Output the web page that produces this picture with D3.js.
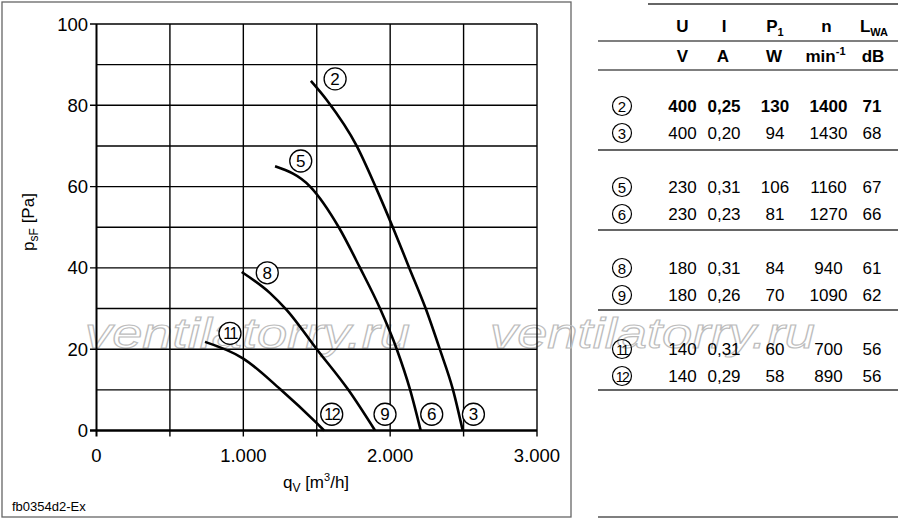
<!DOCTYPE html>
<html><head><meta charset="utf-8">
<script src="https://cdn.jsdelivr.net/npm/d3@7"></script>
<style>
body{margin:0;background:#fff;}
svg{display:block;font-family:"Liberation Sans",Arial,Helvetica,sans-serif;}
</style></head>
<body><svg id="c" width="900" height="520"></svg>
<script>
// ---- data ----
const xTicks = [0, 500, 1000, 1500, 2000, 2500, 3000];
const xTickLabels = ["0", "", "1.000", "", "2.000", "", "3.000"];
const yGrid = [0, 10, 20, 30, 40, 50, 60, 70, 80, 90, 100];
const yTickLabels = [0, 20, 40, 60, 80, 100];

// curve 2 -> 3
const curve23 = [[1460,86],[1568,81.3],[1772,70],[1900,60],[2018,50],[2130,40],[2242,30],[2338,20],[2428,10],[2494,0]];
// curve 5 -> 6
const curve56 = [[1216,65],[1455,60],[1650,50],[1795,40],[1931,30],[2045,20],[2136,10],[2208,0]];
// curve 8 -> 9
const curve89 = [[989,39],[1182,33.8],[1296,29.6],[1500,20],[1715,10],[1897,0]];
// curve 11 -> 12
const curve1112 = [[739,21.8],[1000,17.7],[1250,10.2],[1500,1.8],[1550,0]];
const curves = [curve23, curve56, curve89, curve1112];

// operating point labels [number, q, p]
const pointLabels = [["2",1625,86.5],["3",2567,4],["5",1391,66.3],["6",2283,4],["8",1163,38.8],["9",1965,4],["11",909,23.9],["12",1602,4]];

// table
const rowIds = ["2","3","5","6","8","9","11","12"];
const colU = [400,400,230,230,180,180,140,140];
const colI = ["0,25","0,20","0,31","0,23","0,31","0,26","0,31","0,29"];
const colP1 = [130,94,106,81,84,70,60,58];
const colN = [1400,1430,1160,1270,940,1090,700,890];
const colLWA = [71,68,67,66,61,62,56,56];

// ---- drawing ----
const svg = d3.select("#c");
const x = d3.scaleLinear().domain([0,3000]).range([96.5,537]);
const y = d3.scaleLinear().domain([0,100]).range([430.5,24]);

// frame of left panel
svg.append("rect").attr("x",2).attr("y",2).attr("width",569).attr("height",515)
  .attr("fill","none").attr("stroke","#666").attr("stroke-width",1.3);

// watermark
["ventilatorry.ru","ventilatorry.ru"].forEach((t,i)=>{
  svg.append("text").attr("x", i===0 ? 85 : 490).attr("y",348)
    .attr("font-size",42).attr("font-style","italic")
    .attr("textLength",325).attr("lengthAdjust","spacingAndGlyphs")
    .attr("fill","none").attr("stroke","#bdbdbd").attr("stroke-width",1.1)
    .text(t);
});

// grid
const g = svg.append("g");
g.selectAll(".hg").data(yGrid).join("line")
  .attr("x1", d => (d % 20 === 0) ? x(0)-6.5 : x(0)).attr("x2", x(3000))
  .attr("y1", d=>y(d)).attr("y2", d=>y(d))
  .attr("stroke","#000").attr("stroke-width", d => d===0 ? 2.4 : 1.4);
g.selectAll(".vg").data(xTicks).join("line")
  .attr("x1", d=>x(d)).attr("x2", d=>x(d))
  .attr("y1", y(100)).attr("y2", y(0)+6)
  .attr("stroke","#000").attr("stroke-width", d => d===0 ? 2 : 1.4);

// tick labels
svg.selectAll(".yl").data(yTickLabels).join("text")
  .attr("x", 88).attr("y", d=>y(d)+6.5).attr("text-anchor","end")
  .attr("font-size",18.5).attr("fill","#000").text(d=>d);
svg.selectAll(".xl").data(xTicks).join("text")
  .attr("x", d=>x(d)).attr("y", 462).attr("text-anchor","middle")
  .attr("font-size",18.5).attr("fill","#000").text((d,i)=>xTickLabels[i]);

// axis titles
const xt = svg.append("text").attr("x",316).attr("y",488).attr("text-anchor","middle")
  .attr("font-size",17).attr("fill","#000");
xt.append("tspan").text("q");
xt.append("tspan").attr("font-size",12).attr("dy",4).text("V");
xt.append("tspan").attr("dy",-4).text(" [m");
xt.append("tspan").attr("font-size",11).attr("dy",-7).text("3");
xt.append("tspan").attr("dy",7).text("/h]");

const yt = svg.append("text").attr("transform","translate(34,222) rotate(-90)")
  .attr("text-anchor","middle").attr("font-size",17).attr("fill","#000");
yt.append("tspan").text("p");
yt.append("tspan").attr("font-size",12).attr("dy",4).text("sF");
yt.append("tspan").attr("dy",-4).text(" [Pa]");

// curves
const line = d3.line().x(d=>x(d[0])).y(d=>y(d[1])).curve(d3.curveMonotoneX);
svg.selectAll(".curve").data(curves).join("path")
  .attr("d", line).attr("fill","none").attr("stroke","#000").attr("stroke-width",2.6);

// operating point labels
const pl = svg.selectAll(".pl").data(pointLabels).join("g")
  .attr("transform", d=>`translate(${x(d[1])},${y(d[2])})`);
pl.append("circle").attr("r",11).attr("fill","#fff").attr("stroke","#000").attr("stroke-width",1.3);
pl.append("text").attr("text-anchor","middle").attr("y",6)
  .attr("font-size", d=>d[0].length>1 ? 16 : 17)
  .attr("letter-spacing", d=>d[0].length>1 ? -1.5 : 0)
  .attr("fill","#000").text(d=>d[0]);

// footer code
svg.append("text").attr("x",12).attr("y",511).attr("font-size",13).attr("fill","#000").text("fb0354d2-Ex");

// ---- table ----
const colX = [682.5, 724, 775, 828.5, 872];
const tbl = svg.append("g");
const head = tbl.append("g").attr("font-size",17).attr("font-weight","bold").attr("fill","#000").attr("text-anchor","middle");
head.append("text").attr("x",colX[0]).attr("y",32).text("U");
head.append("text").attr("x",colX[1]).attr("y",32).text("I");
const hp = head.append("text").attr("x",colX[2]).attr("y",32);
hp.append("tspan").text("P");
hp.append("tspan").attr("font-size",11).attr("dy",4).text("1");
head.append("text").attr("x",colX[3]-2).attr("y",32).text("n");
const hl = head.append("text").attr("x",colX[4]+2).attr("y",32);
hl.append("tspan").text("L");
hl.append("tspan").attr("font-size",11).attr("dy",4).text("WA");
head.append("text").attr("x",colX[0]).attr("y",62).text("V");
head.append("text").attr("x",colX[1]-1).attr("y",62).text("A");
head.append("text").attr("x",colX[2]-1).attr("y",62).text("W");
const hm = head.append("text").attr("x",colX[3]-3).attr("y",62);
hm.append("tspan").text("min");
hm.append("tspan").attr("font-size",11).attr("dy",-7).text("-1");
head.append("text").attr("x",colX[4]+1).attr("y",62).text("dB");

// table rules
tbl.append("line").attr("x1",648).attr("x2",898).attr("y1",4).attr("y2",4).attr("stroke","#333").attr("stroke-width",1.5);
[41,70].forEach(v=>tbl.append("line").attr("x1",598).attr("x2",898).attr("y1",v).attr("y2",v).attr("stroke","#555").attr("stroke-width",1.5));
[0,1,2,3].forEach(gi=>tbl.append("line").attr("x1",598).attr("x2",898)
  .attr("y1",150+gi*80).attr("y2",150+gi*80).attr("stroke","#333").attr("stroke-width",1.5));
tbl.append("line").attr("x1",598).attr("x2",898).attr("y1",517).attr("y2",517).attr("stroke","#555").attr("stroke-width",1.5);

const rows = tbl.selectAll(".row").data(rowIds).join("g")
  .attr("transform",(d,i)=>`translate(0,${112 + Math.floor(i/2)*81 + (i%2)*27})`)
  .attr("font-size",17).attr("fill","#000")
  .attr("font-weight",(d,i)=> i===0 ? "bold" : "normal");
rows.append("circle").attr("cx",622).attr("cy",-6).attr("r",9.5)
  .attr("fill","none").attr("stroke","#000").attr("stroke-width",1.2);
rows.append("text").attr("x",622).attr("y",-0.5).attr("text-anchor","middle")
  .attr("font-size",d=>d.length>1?14:15).attr("font-weight","normal")
  .attr("letter-spacing",d=>d.length>1?-1.5:0).text(d=>d);
const cols = [colU, colI, colP1, colN, colLWA];
cols.forEach((c,ci)=>{
  rows.append("text").attr("x",colX[ci]).attr("text-anchor","middle").text((d,i)=>c[i]);
});
</script></body></html>
